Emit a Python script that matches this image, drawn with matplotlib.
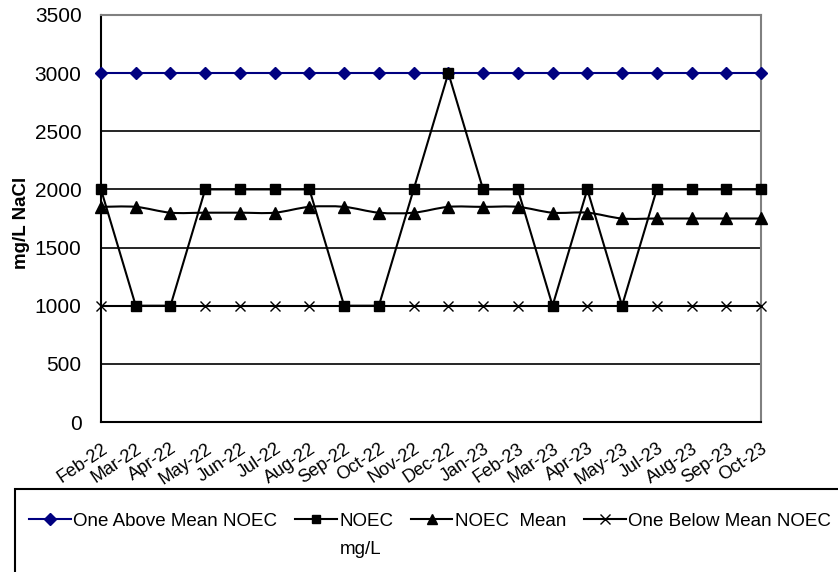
import numpy as np
import matplotlib
matplotlib.use("Agg")
import matplotlib.pyplot as plt
from matplotlib.path import Path
from matplotlib.patches import PathPatch, Rectangle
from matplotlib.lines import Line2D

plt.rcParams['font.family'] = ['Liberation Sans', 'DejaVu Sans']

months = ["Feb-22", "Mar-22", "Apr-22", "May-22", "Jun-22", "Jul-22", "Aug-22",
          "Sep-22", "Oct-22", "Nov-22", "Dec-22", "Jan-23", "Feb-23", "Mar-23",
          "Apr-23", "May-23", "Jul-23", "Aug-23", "Sep-23", "Oct-23"]
one_above = [3000] * 20
noec = [2000, 1000, 1000, 2000, 2000, 2000, 2000, 1000, 1000, 2000,
        3000, 2000, 2000, 1000, 2000, 1000, 2000, 2000, 2000, 2000]
noec_mean = [1850, 1850, 1800, 1800, 1800, 1800, 1850, 1850, 1800, 1800,
             1850, 1850, 1850, 1800, 1800, 1750, 1750, 1750, 1750, 1750]
one_below = [1000] * 20
y_ticks = [0, 500, 1000, 1500, 2000, 2500, 3000, 3500]


def smooth_path(xs, ys, t=1 / 6):
    # excel-like smoothed line: catmull-rom as cubic bezier segments
    pts = np.column_stack([xs, ys]).astype(float)
    verts = [pts[0]]
    codes = [Path.MOVETO]
    n = len(pts)
    for i in range(n - 1):
        p0 = pts[max(i - 1, 0)]
        p1 = pts[i]
        p2 = pts[i + 1]
        p3 = pts[min(i + 2, n - 1)]
        verts += [p1 + (p2 - p0) * t, p2 - (p3 - p1) * t, p2]
        codes += [Path.CURVE4] * 3
    return Path(verts, codes)


fig = plt.figure(figsize=(8.38, 5.72), dpi=100)
ax = fig.add_axes([101 / 838, 1 - 422 / 572, 660 / 838, 407 / 572])

x = np.arange(len(months))
ax.plot(x, one_above, color="#000080", lw=1.5, marker="D", ms=6, clip_on=False, zorder=5)
ax.plot(x, noec, color="black", lw=1.5, marker="s", ms=7, clip_on=False, zorder=5)
ax.add_patch(PathPatch(smooth_path(x, noec_mean), fill=False, edgecolor="black", lw=1.5, zorder=4))
ax.plot(x, noec_mean, color="black", ls="none", marker="^", ms=8, clip_on=False, zorder=5)
ax.plot(x, one_below, color="black", lw=1.5, marker="x", ms=7, mew=1, clip_on=False, zorder=5)

ax.set_xlim(0, len(months) - 1)
ax.set_ylim(0, 3500)
ax.set_yticks(y_ticks)
for yv in y_ticks[1:-1]:
    ax.axhline(yv, color="black", lw=1.2, zorder=1)
ax.set_xticks(x)
ax.set_xticklabels(months, rotation=34, ha="right", va="top", rotation_mode="anchor", fontsize=13)
ax.tick_params(axis="y", length=0, pad=14, labelsize=15)
ax.tick_params(axis="x", length=0, pad=13)
for side in ["left", "bottom"]:
    ax.spines[side].set_color("black")
    ax.spines[side].set_linewidth(1.5)
for side in ["top", "right"]:
    ax.spines[side].set_color("#808080")
    ax.spines[side].set_linewidth(1.5)
ax.set_ylabel("mg/L NaCl", fontsize=13.5, fontweight="bold")
ax.yaxis.set_label_coords(-0.107, 0.49)

# legend frame runs off the figure edge
fig.add_artist(Rectangle((15 / 838, -0.1), 1.0, 1 - 489 / 572 + 0.1,
                         transform=fig.transFigure, fill=False, edgecolor="black", lw=1.5))

handles = [
    Line2D([], [], color="#000080", lw=1.5, marker="D", ms=6),
    Line2D([], [], color="black", lw=1.5, marker="s", ms=6),
    Line2D([], [], color="black", lw=1.5, marker="^", ms=7),
    Line2D([], [], color="black", lw=1.5, marker="x", ms=7, mew=1),
]
labels = ["One Above Mean NOEC", "NOEC", "NOEC  Mean", "One Below Mean NOEC"]
leg = fig.legend(handles, labels, ncol=4, frameon=False, fontsize=13.5,
                 loc="center left", bbox_to_anchor=(20 / 838, 1 - 521 / 572),
                 handlelength=2.2, handletextpad=0.15, columnspacing=0.95, borderpad=0)

# second line of the "NOEC mg/L" label
fig.canvas.draw()
bb = leg.get_texts()[1].get_window_extent()
fig.text(bb.x0 / fig.bbox.width, (bb.y0 - 28) / fig.bbox.height, "mg/L",
         fontsize=13.5, ha="left", va="bottom")

fig.savefig("out.png", dpi=100)
